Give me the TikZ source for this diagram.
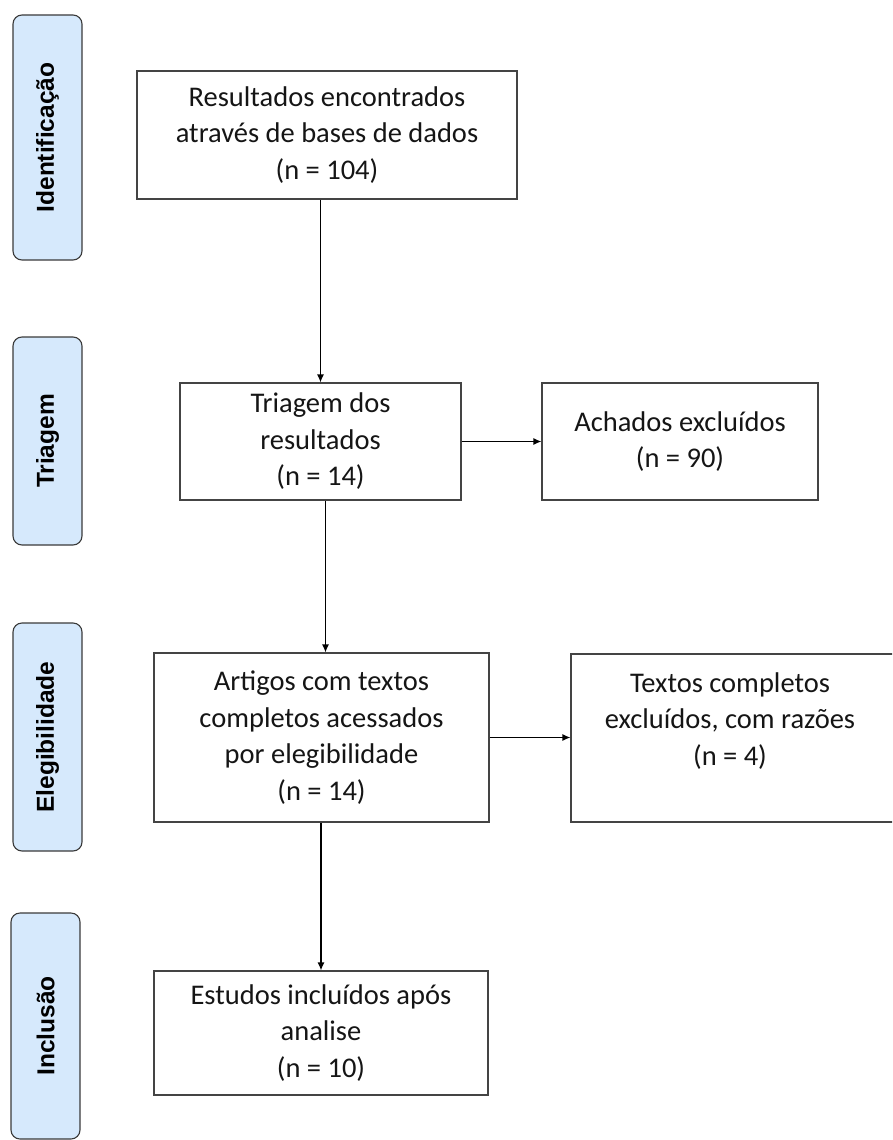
\documentclass[tikz,border=0pt]{standalone}
\usepackage{fontspec}
\setmainfont{Carlito}
\newfontfamily\sidefont{Liberation Sans}
\usetikzlibrary{arrows.meta}
\definecolor{sidefill}{HTML}{D6E9FC}
\definecolor{sidedraw}{HTML}{3A3A3A}
\definecolor{boxdraw}{HTML}{444444}
\definecolor{txt}{HTML}{151515}
\tikzset{
  sidebox/.style={draw=sidedraw, fill=sidefill, rounded corners=9pt, line width=1.1pt,
    minimum width=69pt, inner sep=0pt, text=black,
    font=\sidefont\bfseries\fontsize{24.5}{28}\selectfont},
  flowbox/.style={draw=boxdraw, line width=1.2pt, inner sep=0pt, align=center, text=txt,
    font=\fontsize{28.5}{36.5}\selectfont},
  arr/.style={-{Latex[length=8pt,width=7pt]}, line width=1.2pt, black}
}
\begin{document}
\begin{tikzpicture}[x=1pt,y=-1pt]
\useasboundingbox (0,0) rectangle (892,1140);
\clip (0,0) rectangle (892,1140);
% side labels
\node[sidebox, minimum height=245pt] (sid) at (47.5,137.5) {\rotatebox{90}{Identificação}};
\node[sidebox, minimum height=208pt] (str) at (47.5,441) {\rotatebox{90}{Triagem}};
\node[sidebox, minimum height=228pt] (sel) at (47.5,737) {\rotatebox{90}{Elegibilidade}};
\node[sidebox, minimum height=226pt] (sin) at (45.5,1026) {\rotatebox{90}{Inclusão}};
% flow boxes
\node[flowbox, minimum width=380pt, minimum height=128pt] (b1) at (327,135)
  {Resultados encontrados\\através de bases de dados\\(n = 104)};
\node[flowbox, minimum width=281pt, minimum height=117pt] (b2) at (320.5,441.5)
  {Triagem dos\\resultados\\(n = 14)};
\node[flowbox, minimum width=276pt, minimum height=117pt] (b3) at (680,441.5)
  {Achados excluídos\\(n = 90)};
\node[flowbox, minimum width=335pt, minimum height=169pt] (b4) at (321.5,737.5)
  {Artigos com textos\\completos acessados\\por elegibilidade\\(n = 14)};
\node[flowbox, minimum width=324pt, minimum height=168pt] (b5) at (733,738)
  {\hspace*{-6pt}Textos completos\\\hspace*{-6pt}excluídos, com razões\\\hspace*{-6pt}(n = 4)\\[2pt]};
\node[flowbox, minimum width=334pt, minimum height=124pt] (b6) at (321,1033)
  {Estudos incluídos após\\analise\\(n = 10)};
% connectors
\draw[arr] (b2.north |- b1.south) -- (b2.north);
\draw[arr] (b2.east) -- (b3.west);
\draw[arr] ([xshift=5pt]b2.south) -- ([xshift=5pt]b2.south |- b4.north);
\draw[arr] (b4.east) -- (b5.west |- b4.east);
\draw[arr] (b6.north |- b4.south) -- (b6.north);
\end{tikzpicture}
\end{document}
